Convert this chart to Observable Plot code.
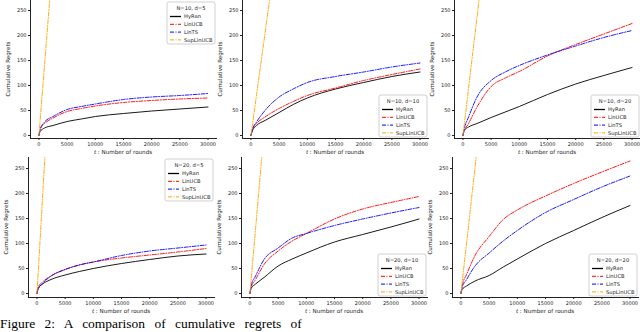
<!DOCTYPE html>
<html><head><meta charset="utf-8">
<script src="https://cdn.jsdelivr.net/npm/d3@7"></script>
<script src="https://cdn.jsdelivr.net/npm/@observablehq/plot@0.6"></script>
<style>
body{margin:0;background:#fff;}
#fig{position:relative;width:640px;height:332px;overflow:hidden;font-family:"DejaVu Sans",sans-serif;background:#fff;}
.panel{position:absolute;}
#caption{position:absolute;left:0;top:317px;font-family:"Liberation Serif",serif;font-size:13.5px;line-height:14px;white-space:nowrap;word-spacing:6px;color:#000;}
</style></head><body><div id="fig"></div>
<script>
// ---- data ----
const rounds = [0, 200, 1000, 2500, 5000, 7500, 10000, 15000, 20000, 25000, 30000];
const supRounds = [0, 500, 1000, 2000, 3000, 4000];
const xTicks = [0, 5000, 10000, 15000, 20000, 25000, 30000];
const yTicks = [0, 50, 100, 150, 200, 250];
const seriesNames = ["HyRan", "LinUCB", "LinTS", "SupLinUCB"];
const panelTitles = ["N=10, d=5", "N=10, d=10", "N=10, d=20", "N=20, d=5", "N=20, d=10", "N=20, d=20"];

const hyran_10_5   = [0, 8, 15, 20, 28, 33, 38, 44, 49, 53, 57];
const linucb_10_5  = [0, 12, 24, 35, 48, 54, 59, 66, 70, 73, 75];
const lints_10_5   = [0, 12, 27, 38, 52, 58, 63, 72, 77, 80, 84];
const sup_10_5     = [0, 72, 142, 284, 426, 568];

const hyran_10_10  = [0, 8, 20, 30, 46, 62, 75, 93, 106, 118, 127];
const linucb_10_10 = [0, 10, 24, 37, 54, 68, 80, 95, 110, 122, 133];
const lints_10_10  = [0, 10, 27, 50, 77, 93, 106, 118, 127, 137, 145];
const sup_10_10    = [0, 41, 82, 164, 246, 328];

const hyran_10_20  = [0, 10, 17, 24, 36, 47, 58, 82, 103, 120, 136];
const linucb_10_20 = [0, 8, 24, 57, 98, 115, 128, 159, 182, 203, 224];
const lints_10_20  = [0, 12, 37, 77, 110, 127, 140, 161, 179, 196, 210];
const sup_10_20    = [0, 47, 95, 190, 284, 379];

const hyran_20_5   = [0, 10, 19, 28, 37, 44, 50, 60, 68, 75, 79];
const linucb_20_5  = [0, 12, 23, 35, 48, 57, 63, 71, 77, 83, 90];
const lints_20_5   = [0, 8, 20, 35, 48, 57, 63, 76, 85, 91, 97];
const sup_20_5     = [0, 96, 193, 386, 579, 772];

const hyran_20_10  = [0, 10, 19, 32, 55, 69, 81, 103, 118, 133, 149];
const linucb_20_10 = [0, 12, 28, 58, 85, 105, 120, 149, 169, 182, 194];
const lints_20_10  = [0, 15, 35, 68, 91, 111, 120, 136, 149, 161, 172];
const sup_20_10    = [0, 65, 130, 260, 389, 519];

const hyran_20_20  = [0, 8, 15, 25, 36, 53, 69, 100, 126, 152, 176];
const linucb_20_20 = [0, 15, 38, 76, 114, 148, 167, 195, 220, 243, 265];
const lints_20_20  = [0, 12, 28, 55, 81, 105, 126, 162, 188, 213, 235];
const sup_20_20    = [0, 51, 101, 202, 303, 404];

// ---- layout / styles ----
const colors = {HyRan: "#000000", LinUCB: "#ff0000", LinTS: "#0000ff", SupLinUCB: "#ffa500"};
const dashes = {HyRan: null, LinUCB: "4,1.5,1,1.5", LinTS: "4,1.5,1,1.5", SupLinUCB: "4,1.5,1,1.5"};

const panels = [
  {title: panelTitles[0], h: hyran_10_5,  u: linucb_10_5,  t: lints_10_5,  s: sup_10_5,  row: 0, left: 0,   leg: "top"},
  {title: panelTitles[1], h: hyran_10_10, u: linucb_10_10, t: lints_10_10, s: sup_10_10, row: 0, left: 212, leg: "bottom"},
  {title: panelTitles[2], h: hyran_10_20, u: linucb_10_20, t: lints_10_20, s: sup_10_20, row: 0, left: 424, leg: "bottom"},
  {title: panelTitles[3], h: hyran_20_5,  u: linucb_20_5,  t: lints_20_5,  s: sup_20_5,  row: 1, left: -2,  leg: "top"},
  {title: panelTitles[4], h: hyran_20_10, u: linucb_20_10, t: lints_20_10, s: sup_20_10, row: 1, left: 211, leg: "bottom"},
  {title: panelTitles[5], h: hyran_20_20, u: linucb_20_20, t: lints_20_20, s: sup_20_20, row: 1, left: 422, leg: "bottom"}
];

const fig = document.getElementById("fig");
const W = 218, ML = 30, MR = 2, MB = 20;

panels.forEach(p => {
  const yDomain = p.row === 0 ? [-6, 270] : [-8, 272];
  const plotH = p.row === 0 ? 138 : 140;
  const top = p.row === 0 ? 0 : 157;
  const data = [];
  rounds.forEach((r, i) => {
    data.push({t: r, v: p.h[i], s: "HyRan"});
    data.push({t: r, v: p.u[i], s: "LinUCB"});
    data.push({t: r, v: p.t[i], s: "LinTS"});
  });
  const sup = supRounds.map((r, i) => ({t: r, v: p.s[i], s: "SupLinUCB"}));
  const lineFor = name => Plot.line(data.filter(d => d.s === name), {
    x: "t", y: "v", stroke: colors[name], strokeWidth: 0.9,
    strokeDasharray: dashes[name] || undefined, curve: "monotone-x", clip: true
  });
  const chart = Plot.plot({
    width: W, height: plotH + MB,
    marginLeft: ML, marginRight: MR, marginTop: 0, marginBottom: MB,
    style: {fontFamily: "DejaVu Sans", fontSize: "5px", color: "#222", background: "transparent", overflow: "visible"},
    x: {domain: [-1500, 31500], ticks: xTicks, tickFormat: d => String(d), tickSize: 2, tickPadding: 2, line: true, label: null},
    y: {domain: yDomain, ticks: yTicks, tickFormat: d => String(d), tickSize: 2, tickPadding: 2, line: true, label: null},
    marks: [
      lineFor("HyRan"),
      lineFor("LinUCB"),
      lineFor("LinTS"),
      Plot.line(sup, {x: "t", y: "v", stroke: colors.SupLinUCB, strokeWidth: 0.9, strokeDasharray: dashes.SupLinUCB, clip: true})
    ]
  });
  chart.classList.add("panel");
  chart.style.left = p.left + "px";
  chart.style.top = top + "px";
  fig.appendChild(chart);

  const svg = d3.select(chart);
  // y label
  svg.append("text")
    .attr("transform", `translate(10,${plotH / 2}) rotate(-90)`)
    .attr("text-anchor", "middle").attr("font-size", 5.6).attr("fill", "#222")
    .attr("font-family", "DejaVu Sans")
    .text("Cumulative Regrets");
  // x label with italic t
  const xl = svg.append("text")
    .attr("x", ML + (W - ML - MR) / 2).attr("y", plotH + 16)
    .attr("text-anchor", "middle").attr("font-size", 5.6).attr("fill", "#222")
    .attr("font-family", "DejaVu Sans");
  xl.append("tspan").attr("font-style", "italic").text("t");
  xl.append("tspan").text(" : Number of rounds");

  // legend
  const lw = 48, lh = 42;
  const lx = W - MR - lw - 1;
  const ly = p.leg === "top" ? 2 : plotH - lh - 1;
  const g = svg.append("g").attr("transform", `translate(${lx},${ly})`).attr("text-anchor", "start");
  g.append("rect").attr("width", lw).attr("height", lh).attr("rx", 2)
    .attr("fill", "white").attr("fill-opacity", 0.85).attr("stroke", "#bbb").attr("stroke-width", 0.7);
  g.append("text").attr("x", lw / 2).attr("y", 7.5).attr("text-anchor", "middle")
    .attr("font-size", 5.2).attr("fill", "#222").attr("font-family", "DejaVu Sans").text(p.title);
  seriesNames.forEach((name, i) => {
    const yy = 14.5 + i * 7.8;
    g.append("line").attr("x1", 3).attr("x2", 14).attr("y1", yy).attr("y2", yy)
      .attr("stroke", colors[name]).attr("stroke-width", name === "HyRan" ? 1.3 : 1)
      .attr("stroke-dasharray", dashes[name]);
    g.append("text").attr("x", 17).attr("y", yy + 1.8).attr("text-anchor", "start")
      .attr("font-size", 5.2).attr("fill", "#222")
      .attr("font-family", "DejaVu Sans").text(name);
  });
});

const cap = document.createElement("div");
cap.id = "caption";
cap.textContent = "Figure 2:  A comparison of cumulative regrets of";
fig.appendChild(cap);
</script>
</body></html>
